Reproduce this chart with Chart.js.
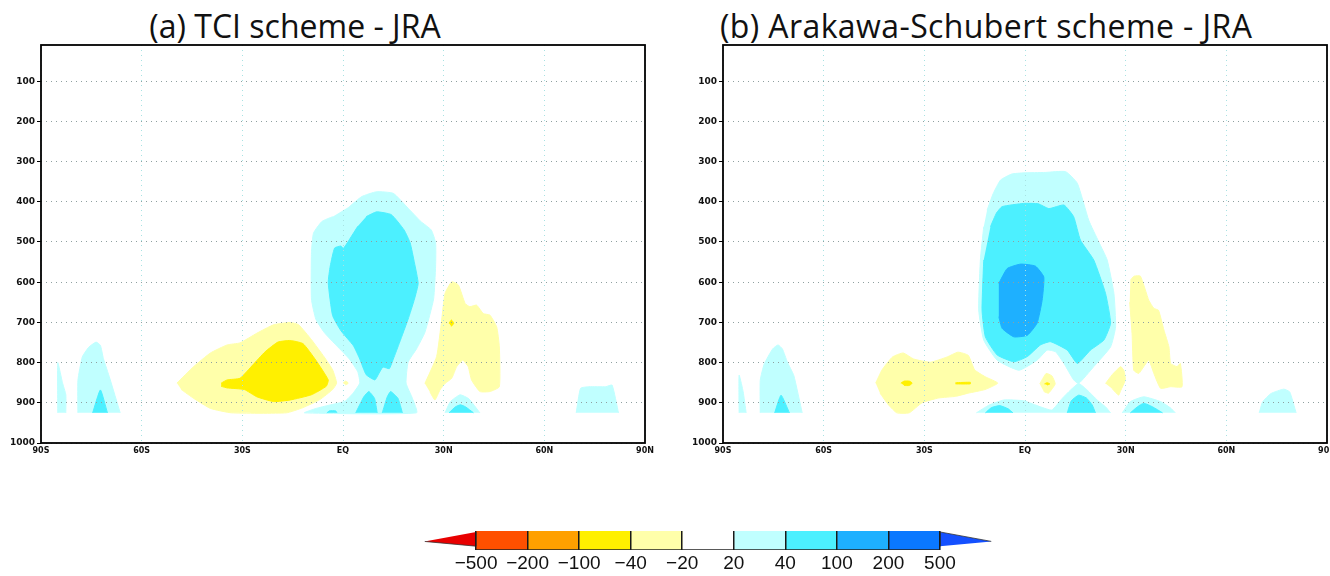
<!DOCTYPE html>
<html>
<head>
<meta charset="utf-8">
<script src="https://cdn.jsdelivr.net/npm/chart.js@4.4.0/dist/chart.umd.min.js"></script>
<style>
  body { margin: 0; background: #fff; width: 1330px; height: 576px; overflow: hidden; position: relative; }
  canvas { position: absolute; }
  .ttl { position: absolute; font-family: "Open Sans", sans-serif; font-size: 32px; line-height: 32px;
         color: #111; text-align: center; white-space: nowrap; }
</style>
</head>
<body>
<div class="ttl" style="left:95px;top:10px;width:400px">(a) TCI scheme - JRA</div>
<div class="ttl" style="left:720px;top:10px;width:500px;letter-spacing:0.4px">(b) Arakawa-Schubert scheme - JRA</div>
<canvas id="chartA" width="665" height="470" style="left:0;top:0"></canvas>
<canvas id="chartB" width="648" height="470" style="left:682px;top:0"></canvas>
<canvas id="cbar" width="620" height="56" style="left:400px;top:520px"></canvas>
<script>
// axes
const latTicks = [-90, -60, -30, 0, 30, 60, 90];
const latLabels = ["90S", "60S", "30S", "EQ", "30N", "60N", "90N"];
const presTicks = [100, 200, 300, 400, 500, 600, 700, 800, 900, 1000];
const cbLevels = [-500, -200, -100, -40, -20, 20, 40, 100, 200, 500];

// shading classes: 0 <-500, 1 -500..-200, 2 -200..-100, 3 -100..-40, 4 -40..-20,
// 5 -20..20, 6 20..40, 7 40..100, 8 100..200, 9 200..500, 10 >500
const shadeColors = ["#e80000", "#ff5000", "#ffa000", "#fff000", "#ffffaa", "#ffffff",
                     "#c0ffff", "#4cf0ff", "#1eb0ff", "#0a78ff", "#1450ff"];

// ---- (a) TCI scheme - JRA : contour regions as [lat, hPa] ----
const tciSliver = [[-85,925],[-85,800],[-83.6,850],[-82.6,880],[-82.6,925]];
const tciPolarLC = [[-79,925],[-79,844],[-77.7,786],[-75.8,762],[-73.6,749],[-72.3,757],[-71.4,790],[-69.5,839],[-66.4,925]];
const tciPolarC = [[-74.6,925],[-72.3,868],[-70.2,925]];
const tciSouthLY = [[-49.5,851],[-44.5,810],[-39.5,776],[-34.5,756],[-30.7,751],[-25.7,727],[-20.7,706],[-15.7,700],[-13.2,706],[-9.4,743],[-5.6,786],[-3.1,818],[-1.9,851],[-3.1,867],[-6.9,892],[-11.9,912],[-16.9,925],[-33.2,925],[-39.5,914],[-44.5,889],[-48.2,867]];
const tciSouthY = [[-36.3,851],[-34.5,843],[-30.7,839],[-26.9,806],[-23.2,773],[-19.4,749],[-15.7,745],[-11.9,753],[-8.1,794],[-4.4,843],[-5,859],[-9.4,880],[-15.7,893],[-20.7,897],[-25.7,885],[-29.4,867],[-34.5,863],[-36.3,859]];
const tciEqDot = [[0,851],[0.8,846],[1.6,851],[0.8,856]];
const tciTowerLC = [[1.9,412],[5.6,387],[10,375],[15,379],[19.4,416],[23.2,449],[26.3,470],[27.6,502],[27.6,560],[27,642],[24.4,725],[21.9,766],[19.4,799],[18.8,851],[20.7,889],[21.9,925],[-11.5,925],[-8,914],[-4.2,906],[0.6,896],[3.1,875],[5,851],[4.4,823],[1.9,791],[-1.9,758],[-5.6,725],[-8.1,692],[-9.4,642],[-9.4,527],[-8.8,478],[-6.3,449],[-3.1,437]];
const tciTowerC = [[6.9,437],[10,425],[14.4,432],[18.2,470],[20,502],[21.3,552],[22.4,603],[21.3,642],[19.4,692],[16.9,749],[15,791],[13.8,815],[11.9,811],[10.7,827],[9.5,843],[6.9,830],[5,791],[3.1,758],[-0.6,721],[-3.1,683],[-4.4,601],[-3.8,560],[-2.5,515],[-0.6,510],[0.1,516],[1.9,494],[4.4,461]];
const tciFootC1 = [[3.8,925],[6.2,885],[7.7,872],[9.4,889],[10.2,925]];
const tciFootC2 = [[11.7,925],[13.2,885],[14.2,872],[16.4,889],[17.7,925]];
const tciFootC0 = [[-4.8,925],[-4,920],[-2.2,920],[-1.8,925]];
const tciSubtropLY = [[24.4,852],[27.9,785],[29.4,694],[30.4,628],[32.4,599],[34.4,607],[36.4,653],[37.8,661],[39.8,657],[41.8,678],[43.8,682],[45.8,711],[46.6,761],[46.6,860],[43.8,872],[40.8,872],[38.3,843],[37.3,810],[35.7,794],[33.9,810],[32.4,839],[30.4,852],[28.9,868],[27.4,893],[25.9,873]];
const tciSubtropY = [[31.6,702],[32.3,694],[33,702],[32.3,710]];
const tciNorthLC = [[30.4,925],[32,897],[34.9,880],[37.5,890],[40.8,925]];
const tciNorthC = [[31.6,925],[33.5,910],[35,905],[36.5,910],[38.9,925]];
const tciArcticLC = [[69.5,925],[70.8,864],[73.3,860],[78.3,860],[80.2,856],[82.1,925]];

// ---- (b) Arakawa-Schubert scheme - JRA ----
const asSliver = [[-85.2,925],[-85.2,831],[-84,872],[-83.1,925]];
const asPolarLC = [[-78.9,925],[-78.9,844],[-77.7,803],[-75.2,766],[-73.6,756],[-72.3,766],[-70.8,799],[-68.9,832],[-66.4,925]];
const asPolarC = [[-74.6,925],[-72.7,881],[-70.2,925]];
const asSouthLY = [[-44.5,851],[-42.6,818],[-39.5,786],[-36.3,776],[-33.2,791],[-28.2,799],[-23.2,786],[-20,774],[-16.9,782],[-15,818],[-11.9,835],[-8.1,851],[-11.9,867],[-16.9,876],[-20.7,884],[-25.7,888],[-30.7,900],[-34.5,925],[-38.2,925],[-40.7,905],[-43.2,876]];
const asSouthY1 = [[-37,851],[-36,846],[-34.5,846],[-33.6,851],[-34.5,857],[-36,857]];
const asSouthY2 = [[-20.7,850],[-16.3,849],[-16.3,853],[-20.7,853]];
const asEqLY = [[4.4,853],[6.3,827],[8,833],[9,853],[7,876],[5.6,872]];
const asEqY = [[5.8,853],[6.6,850],[7.4,853],[6.6,856]];
const asTowerLC = [[-11.3,421],[-9.5,380],[-7.3,346],[-4,331],[-0.4,328],[6,327],[12.1,325],[15.6,354],[19,446],[22,500],[24.5,545],[26.5,628],[27,711],[25.5,761],[20.5,810],[16,852],[14.5,843],[11.6,802],[9.1,773],[6.6,769],[3.6,794],[-1.8,819],[-8.3,794],[-12.3,744],[-13.8,669],[-13.3,545],[-12.3,462]];
const asTowerC = [[-10.3,462],[-8.5,428],[-6.8,412],[-0.4,404],[4,405],[7.1,417],[11.6,408],[14.5,437],[16.5,495],[20.5,545],[24,628],[25.5,702],[23.5,744],[19.5,769],[15.6,802],[12.6,769],[7.6,748],[4.6,756],[0.7,785],[-3.3,798],[-8.3,781],[-11.8,736],[-12.8,669],[-12.3,545]];
const asTowerB = [[-7.8,603],[-5.3,566],[-1.3,555],[3.1,560],[5.6,587],[5.1,645],[3.6,702],[0.7,732],[-3.3,736],[-6.8,715],[-7.8,686]];
const asStripLC = [[-14.5,925],[-10.8,906],[-6.3,893],[-0.4,895],[4.6,910],[8,918],[11.1,889],[13.6,868],[16,852],[18.5,868],[21.5,893],[24,910],[25.5,925]];
const asFootC1 = [[-11.8,925],[-10,912],[-7.5,907],[-5,915],[-3.6,925]];
const asFootC2 = [[12.6,925],[13.8,895],[16,881],[18.3,888],[20,905],[21,925]];
const asSubtropLY1 = [[24,852],[26,830],[28.5,810],[29.5,820],[29.9,843],[28.5,870],[27.9,881],[26,865]];
const asSubtropLY2 = [[31.4,595],[32.5,585],[34.4,585],[36.9,645],[38.4,665],[39.8,670],[41.4,719],[42.9,761],[43.4,802],[45.3,810],[46.3,802],[46.8,860],[43.4,860],[40.4,864],[38.4,827],[36.9,794],[35.4,810],[33.9,827],[32.4,819],[31.9,727],[31.2,650]];
const asNorthLC = [[29,925],[31.4,897],[35.4,885],[40.4,897],[43.4,913],[44.8,925]];
const asNorthC = [[31.4,925],[33.5,910],[35.4,901],[38,910],[41,925]];
const asArcticLC = [[69.8,925],[70.8,898],[73.3,877],[77.1,866],[78.9,873],[80.8,925]];

// region -> shading class
const tciShading = [
  [tciSliver, 6], [tciPolarLC, 6], [tciPolarC, 7], [tciSouthLY, 4], [tciSouthY, 3], [tciEqDot, 4],
  [tciTowerLC, 6], [tciTowerC, 7], [tciFootC1, 7], [tciFootC2, 7], [tciFootC0, 7],
  [tciSubtropLY, 4], [tciSubtropY, 3], [tciNorthLC, 6], [tciNorthC, 7], [tciArcticLC, 6]
];
const asShading = [
  [asSliver, 6], [asPolarLC, 6], [asPolarC, 7], [asSouthLY, 4], [asSouthY1, 3], [asSouthY2, 3],
  [asEqLY, 4], [asEqY, 3], [asTowerLC, 6], [asTowerC, 7], [asTowerB, 8], [asStripLC, 6],
  [asFootC1, 7], [asFootC2, 7], [asSubtropLY1, 4], [asSubtropLY2, 4], [asNorthLC, 6], [asNorthC, 7],
  [asArcticLC, 6]
];

// draws the full box round the plot
const framePlugin = {
  id: "frame",
  afterDraw(chart) {
    const a = chart.chartArea, ctx = chart.ctx;
    ctx.save();
    ctx.strokeStyle = "#000";
    ctx.lineWidth = 1.8;
    ctx.strokeRect(a.left, a.top, a.right - a.left, a.bottom - a.top);
    ctx.restore();
  }
};

function shadeDatasets(regions) {
  return regions.map(([pts, cls]) => ({
    data: pts.map(([lat, p]) => ({ x: lat, y: p })),
    showLine: true,
    fill: "shape",
    backgroundColor: shadeColors[cls],
    borderColor: shadeColors[cls],
    borderWidth: 1,
    pointRadius: 0,
    tension: 0.15,
    order: 10 - Math.abs(cls - 5)
  }));
}

function noPad(scale) {
  scale.paddingLeft = 0; scale.paddingRight = 0;
  scale.paddingTop = 0; scale.paddingBottom = 0;
}

function makePanel(id, regions, rightPad) {
  new Chart(document.getElementById(id), {
    type: "scatter",
    data: { datasets: shadeDatasets(regions) },
    options: {
      responsive: false,
      animation: false,
      events: [],
      layout: { padding: { top: 45, right: rightPad, left: 0, bottom: 0 } },
      plugins: { legend: { display: false }, tooltip: { enabled: false } },
      scales: {
        x: {
          type: "linear", min: -90, max: 90,
          afterBuildTicks: s => { s.ticks = latTicks.map(v => ({ value: v })); },
          afterFit: s => { s.height = 27; noPad(s); },
          ticks: {
            padding: 3, color: "#111",
            font: { family: "DejaVu Sans", weight: "bold", size: 8 },
            callback: v => latLabels[latTicks.indexOf(v)]
          },
          grid: { color: "#a8e2e2", lineWidth: 1, drawTicks: false, z: 1 },
          border: { display: false, dash: [1, 4] }
        },
        y: {
          type: "linear", min: 10, max: 1000, reverse: true,
          afterBuildTicks: s => { s.ticks = presTicks.map(v => ({ value: v })); },
          afterFit: s => { s.width = 41; noPad(s); },
          ticks: {
            padding: 2, color: "#111",
            font: { family: "DejaVu Sans", weight: "bold", size: 9 },
            callback: v => String(v)
          },
          grid: { color: "#8fa0a0", lineWidth: 1, drawTicks: true, tickLength: 4, tickColor: "#000", z: 1 },
          border: { display: false, dash: [1, 4] }
        }
      }
    },
    plugins: [framePlugin]
  });
}

makePanel("chartA", tciShading, 20);
makePanel("chartB", asShading, 3);

// ---- colour bar ----
const cbDatasets = shadeColors.map((c, cls) => {
  let pts;
  if (cls === 0) pts = [[-1, 0.45], [0, 0.2], [0, 0.95]];
  else if (cls === shadeColors.length - 1) pts = [[cbLevels.length, 0.45], [cbLevels.length - 1, 0.95], [cbLevels.length - 1, 0.2]];
  else pts = [[cls - 1, 0], [cls, 0], [cls, 1], [cls - 1, 1]];
  const tri = cls === 0 || cls === shadeColors.length - 1;
  return {
    data: pts.map(([x, y]) => ({ x, y })),
    showLine: true, fill: "shape",
    backgroundColor: c, borderColor: tri ? "#333" : c, borderWidth: tri ? 0.8 : 0.5,
    pointRadius: 0, order: 2
  };
});
cbDatasets.push({
  data: [{ x: 0, y: 0 }, { x: cbLevels.length - 1, y: 0 }],
  showLine: true, fill: false, borderColor: "#222", borderWidth: 1.5, pointRadius: 0, order: 0
});

new Chart(document.getElementById("cbar"), {
  type: "scatter",
  data: { datasets: cbDatasets },
  options: {
    responsive: false,
    animation: false,
    events: [],
    layout: { padding: { top: 11, left: 24.5, right: 28.5, bottom: 0 } },
    plugins: { legend: { display: false }, tooltip: { enabled: false } },
    scales: {
      x: {
        type: "linear", min: -1, max: cbLevels.length,
        afterBuildTicks: s => { s.ticks = cbLevels.map((v, i) => ({ value: i })); },
        afterFit: s => { s.height = 26; noPad(s); },
        ticks: {
          padding: 2, color: "#111",
          font: { family: "Liberation Sans", size: 19 },
          callback: v => String(cbLevels[v]).replace("-", "\u2212")
        },
        grid: { color: "#1a1a1a", lineWidth: 1.5, drawTicks: false, z: 1 },
        border: { display: false }
      },
      y: { type: "linear", min: 0, max: 1, display: false }
    }
  }
});
</script>
</body>
</html>
